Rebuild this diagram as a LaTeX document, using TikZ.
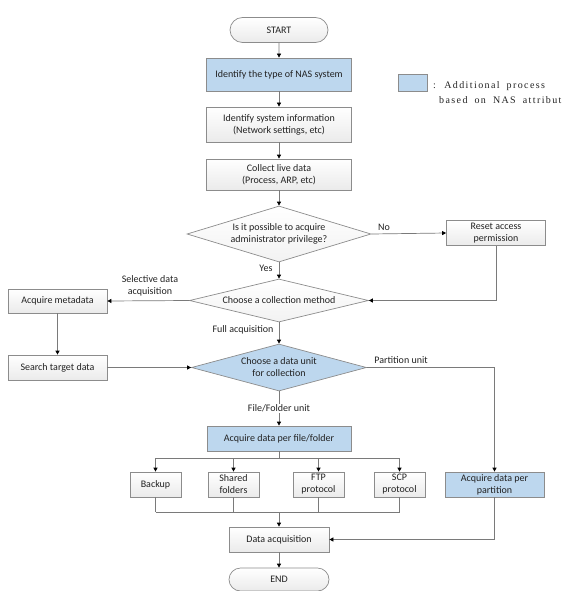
\documentclass[tikz,border=0pt]{standalone}
\usepackage{fontspec}
\setmainfont{Carlito}
\newfontfamily\legendfont{Liberation Serif}[LetterSpace=14,WordSpace=1.8]
\usetikzlibrary{shapes.geometric,shapes.misc,arrows.meta}
\definecolor{nasblue}{HTML}{BDD7EE}
\definecolor{boxline}{HTML}{8C8C8C}
\definecolor{conn}{HTML}{7A7A7A}
\definecolor{txt}{HTML}{222222}
\tikzset{
  proc/.style={draw=boxline, line width=0.7pt, top color=white, bottom color=black!8,
    align=center, inner sep=0pt, text=txt},
  blueproc/.style={draw=boxline, line width=0.7pt, fill=nasblue, align=center, inner sep=0pt, text=txt},
  terminal/.style={rounded rectangle, draw=boxline, line width=0.7pt, top color=white, bottom color=black!8,
    inner sep=0pt, text=txt},
  decision/.style={diamond, draw=boxline, line width=0.7pt, inner sep=0pt},
  dtext/.style={align=center, text=txt, inner sep=0pt},
  lbl/.style={align=center, text=txt, inner sep=1pt},
  conline/.style={draw=conn, line width=0.7pt},
  arr/.style={draw=conn, line width=0.7pt, -{Triangle[length=4pt,width=4pt,color=black]}},
  legtext/.style={anchor=base west, inner sep=0pt, text=txt,
    font=\legendfont\fontsize{10}{12}\selectfont}
}
\begin{document}
\begin{tikzpicture}[x=1pt,y=-1pt,font=\fontsize{10}{12}\selectfont]
\useasboundingbox (0,0) rectangle (577,591);
% main column
\node[terminal, minimum width=98pt, minimum height=25pt] (start) at (279,30) {START};
\node[blueproc, minimum width=145pt, minimum height=33pt] (type) at (279,74.5) {Identify the type of NAS system};
\node[proc, minimum width=145pt, minimum height=35pt] (sys) at (279,124.5) {Identify system information\\(Network settings, etc)};
\node[proc, minimum width=145pt, minimum height=31pt] (live) at (279,174.5) {Collect live data\\(Process, ARP, etc)};
\node[decision, top color=white, bottom color=black!5, minimum width=184pt, minimum height=56pt] (d1) at (279,234) {};
\node[dtext] (d1t) at (d1) {Is it possible to acquire\\administrator privilege?};
\node[proc, minimum width=99pt, minimum height=25pt] (reset) at (496,233) {Reset access\\permission};
\node[decision, top color=white, bottom color=black!5, minimum width=179pt, minimum height=43pt] (d2) at (279,300.5) {};
\node[dtext] (d2t) at (d2) {Choose a collection method};
\node[proc, minimum width=99pt, minimum height=24pt] (meta) at (57.5,301) {Acquire metadata};
\node[proc, minimum width=99pt, minimum height=25pt] (search) at (57.5,367.5) {Search target data};
\node[decision, fill=nasblue, minimum width=175pt, minimum height=47pt] (d3) at (279,367.5) {};
\node[dtext] (d3t) at (d3) {Choose a data unit\\for collection};
\node[blueproc, minimum width=144pt, minimum height=25pt] (file) at (279,438.5) {Acquire data per file/folder};
\node[proc, minimum width=51pt, minimum height=25pt] (backup) at (155.5,484.5) {Backup};
\node[proc, minimum width=51pt, minimum height=25pt] (shared) at (233.5,484.5) {Shared\\folders};
\node[proc, minimum width=51pt, minimum height=25pt] (ftp) at (318.5,484.5) {FTP\\protocol};
\node[proc, minimum width=51pt, minimum height=25pt] (scp) at (399.5,484.5) {SCP\\protocol};
\node[blueproc, minimum width=99pt, minimum height=25pt] (part) at (494.5,484.5) {Acquire data per\\partition};
\node[proc, minimum width=100pt, minimum height=25pt] (data) at (279,539.5) {Data acquisition};
\node[terminal, minimum width=100pt, minimum height=23pt] (end) at (279,579.5) {END};
% helper coordinates
\coordinate (branch) at (279,458);
\coordinate (merge) at (279,512);
% connectors
\draw[arr] (start) -- (type);
\draw[arr] (type) -- (sys);
\draw[arr] (sys) -- (live);
\draw[arr] (live) -- (d1);
\draw[arr] (d1.east) -- (reset.west);
\draw[arr] (d1.south) -- (d2.north);
\draw[arr] (reset.south) |- (d2.east);
\draw[arr] (d2.west) -- (meta.east);
\draw[arr] (meta) -- (search);
\draw[arr] (d2.south) -- (d3.north);
\draw[arr] (search.east) -- (d3.west);
\draw[arr] (d3.east) -| (part.north);
\draw[arr] (d3.south) -- (file.north);
\draw[conline] (file.south) -- (branch);
\draw[conline] (branch -| backup) -- (branch -| scp);
\foreach \n in {backup,shared,ftp,scp}{
  \draw[arr] (branch -| \n) -- (\n.north);
  \draw[conline] (\n.south) -- (merge -| \n);
}
\draw[conline] (merge -| backup) -- (merge -| scp);
\draw[arr] (merge) -- (data.north);
\draw[arr] (part.south) |- (data.east);
\draw[arr] (data) -- (end);
% labels
\node[lbl] (lno) at (384,227) {No};
\node[lbl] (lyes) at (266,268) {Yes};
\node[lbl] (lsel) at (150,286) {Selective data\\acquisition};
\node[lbl] (lfull) at (243,330) {Full acquisition};
\node[lbl] (lpart) at (401,360) {Partition unit};
\node[lbl, fill=white] (lfile) at (279,408.5) {File/Folder unit};
% legend
\node[draw=boxline, line width=0.7pt, fill=nasblue, minimum width=29pt, minimum height=17pt, inner sep=0pt] (legbox) at (412.5,82.5) {};
\node[legtext] (leg1) at (433,89) {: Additional process};
\node[legtext] (leg2) at (439,104) {based on NAS attribut};
\end{tikzpicture}
\end{document}
